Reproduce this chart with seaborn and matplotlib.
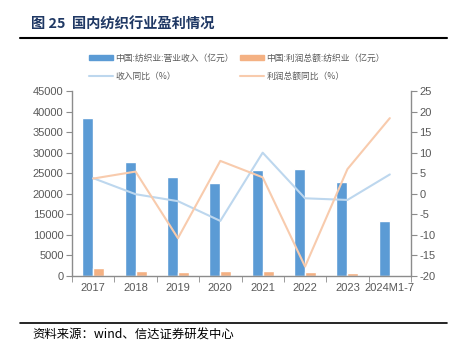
import numpy as np
import pandas as pd
import matplotlib
matplotlib.use('Agg')
import matplotlib.pyplot as plt
from matplotlib.lines import Line2D
from matplotlib.patches import Patch
import seaborn as sns

years = ['2017', '2018', '2019', '2020', '2021', '2022', '2023', '2024M1-7']
revenue = [38500, 27800, 24000, 22700, 25700, 26100, 22900, 13300]
profit = [1870, 1300, 1000, 1200, 1200, 1000, 800, 300]
revenue_yoy = [3.8, -0.1, -1.8, -6.6, 10.0, -1.1, -1.5, 4.7]
profit_yoy = [3.7, 5.4, -10.8, 8.0, 4.0, -17.7, 6.0, 18.4]

lab_rev = '中国:纺织业:营业收入（亿元）'
lab_prof = '中国:利润总额:纺织业（亿元）'
lab_rev_yoy = '收入同比（%）'
lab_prof_yoy = '利润总额同比（%）'

c_rev = '#5B9BD5'
c_prof = '#F4B183'
c_rev_yoy = '#BDD7EE'
c_prof_yoy = '#F8CBAD'
grey = '#595959'
spine = '#8C8C8C'

sns.set_style('white')
plt.rcParams['font.family'] = ['Noto Sans CJK SC', 'DejaVu Sans']
plt.rcParams['axes.unicode_minus'] = False

bars = pd.DataFrame({
    'year': years * 2,
    'value': revenue + profit,
    'series': [lab_rev] * len(years) + [lab_prof] * len(years),
})
lines = pd.DataFrame({'year': years, 'rev': revenue_yoy, 'prof': profit_yoy})

fig = plt.figure(figsize=(4.58, 3.57), dpi=100)
ax = fig.add_axes([72 / 458, 1 - 276 / 357, 339 / 458, 185 / 357])
sns.barplot(data=bars, x='year', y='value', hue='series',
            palette=[c_rev, c_prof], width=0.52, ax=ax, legend=False,
            saturation=1)
ax.set_xlim(-0.5, len(years) - 0.5)
ax.set_ylim(0, 45000)
ax.set_yticks(range(0, 45001, 5000))

ax2 = ax.twinx()
sns.lineplot(data=lines, x='year', y='rev', color=c_rev_yoy, lw=1.5, ax=ax2)
sns.lineplot(data=lines, x='year', y='prof', color=c_prof_yoy, lw=1.5, ax=ax2)
ax2.set_ylim(-20, 25)
ax2.set_yticks(range(-20, 26, 5))

for a in (ax, ax2):
    a.set_xlabel('')
    a.set_ylabel('')
    for s in a.spines.values():
        s.set_visible(False)
    for lab in a.get_xticklabels() + a.get_yticklabels():
        lab.set_family('Liberation Sans')
ax.spines['left'].set_visible(True)
ax.spines['bottom'].set_visible(True)
ax2.spines['right'].set_visible(True)
for s in (ax.spines['left'], ax.spines['bottom'], ax2.spines['right']):
    s.set_color(spine)
    s.set_linewidth(1.0)

ax.tick_params(axis='x', length=0, labelsize=8, labelcolor=grey, pad=5)
ax.set_xticks(np.arange(-0.5, len(years), 1), minor=True)
ax.tick_params(axis='x', which='minor', length=4, color=spine, direction='out', bottom=True)
ax.tick_params(axis='y', left=True, length=4, color=spine, labelsize=8, labelcolor=grey, pad=2)
ax2.tick_params(axis='y', right=True, length=4, color=spine, labelsize=8, labelcolor=grey, pad=2)

handles = [
    Patch(color=c_rev, label=lab_rev),
    Line2D([], [], color=c_rev_yoy, lw=1.5, label=lab_rev_yoy),
    Patch(color=c_prof, label=lab_prof),
    Line2D([], [], color=c_prof_yoy, lw=1.5, label=lab_prof_yoy),
]
fig.legend(handles=handles, ncol=2, loc='upper left', bbox_to_anchor=(81.5 / 458, 1 - 46 / 357),
           frameon=False, fontsize=6.3, labelcolor=grey, handlelength=2.75,
           handleheight=0.45, columnspacing=0.7, handletextpad=0.25, labelspacing=1.0,
           borderpad=0.4)

fig.text(31 / 458, 1 - 25 / 357, '图 25  国内纺织行业盈利情况', fontsize=10.3,
         fontweight='bold', color='#1F3864', va='center', ha='left')
fig.add_artist(Line2D([20 / 458, 447 / 458], [1 - 38 / 357] * 2, color='black', lw=1.5))
fig.add_artist(Line2D([20 / 458, 447 / 458], [1 - 322.5 / 357] * 2, color='black', lw=1.2))
fig.text(32 / 458, 1 - 335 / 357, '资料来源：wind、信达证券研发中心', fontsize=8.9,
         style='italic', color='black', va='center', ha='left')

fig.savefig('out.png', dpi=100)
